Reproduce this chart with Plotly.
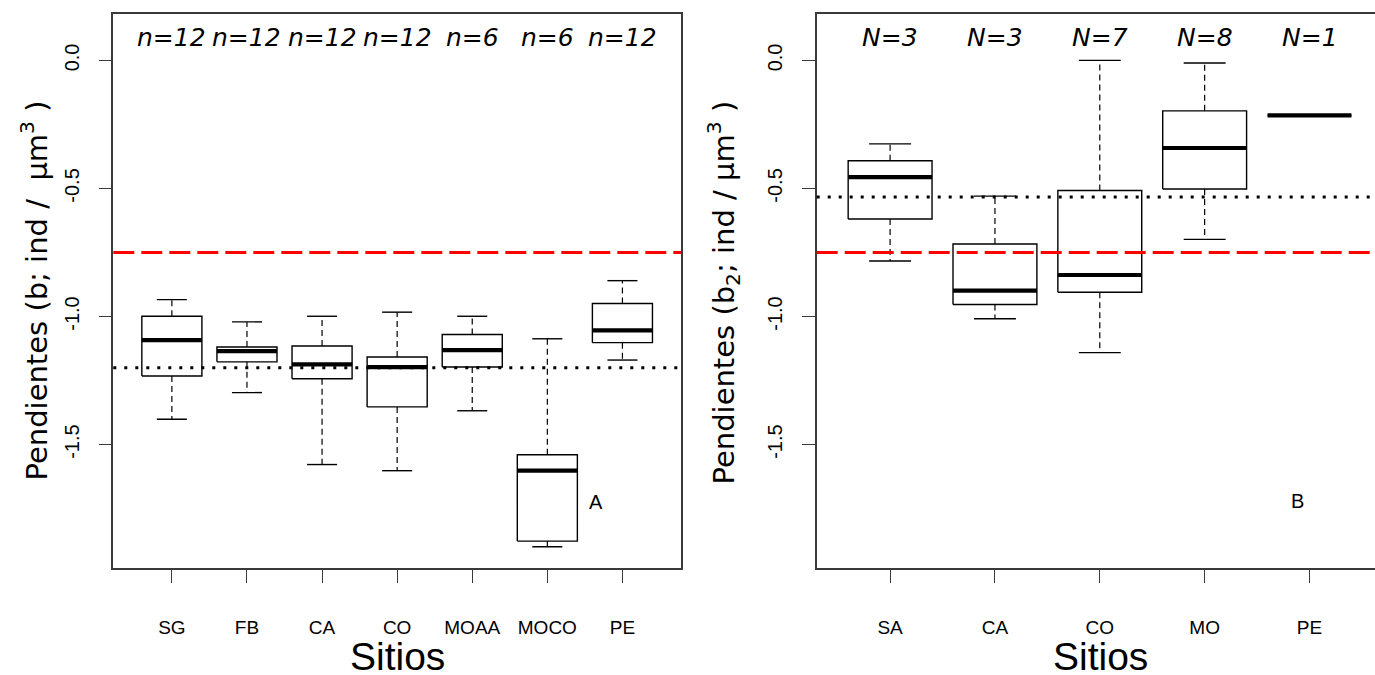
import plotly.graph_objects as go

# ---------------- data ----------------
left_sites = ["SG", "FB", "CA", "CO", "MOAA", "MOCO", "PE"]
left_n = [12, 12, 12, 12, 6, 6, 12]
left_upper = [-0.934, -1.021, -0.999, -0.983, -0.999, -1.087, -0.860]
left_q3 = [-0.999, -1.119, -1.115, -1.158, -1.070, -1.540, -0.949]
left_median = [-1.092, -1.135, -1.187, -1.198, -1.131, -1.602, -1.054]
left_q1 = [-1.232, -1.177, -1.243, -1.353, -1.197, -1.877, -1.102]
left_lower = [-1.401, -1.297, -1.578, -1.602, -1.368, -1.899, -1.170]
left_red_ref = -0.75
left_dot_ref = -1.20

right_sites = ["SA", "CA", "CO", "MO", "PE"]
right_n = [3, 3, 7, 8, 1]
right_upper = [-0.326, -0.530, 0.000, -0.010, -0.215]
right_q3 = [-0.392, -0.717, -0.508, -0.197, -0.215]
right_median = [-0.456, -0.899, -0.838, -0.342, -0.215]
right_q1 = [-0.619, -0.953, -0.905, -0.502, -0.215]
right_lower = [-0.783, -1.009, -1.141, -0.699, -0.215]
right_red_ref = -0.75
right_dot_ref = -0.533

y_tickvals = [0.0, -0.5, -1.0, -1.5]
y_ticktext = ["0.0", "-0.5", "-1.0", "-1.5"]

# ---------------- layout helpers ----------------
W, H = 1375, 675
FRAME = "#3a3a3a"
SANS = "Liberation Sans, Arial, sans-serif"
WIDE = "DejaVu Sans, sans-serif"


def py(p):
    return 1 - p / H


def px(p):
    return p / W


fig = go.Figure()


def add_panel(xa, ya, sites, upper, q3, med, q1, lower):
    xs_wh, ys_wh, xs_cap, ys_cap = [], [], [], []
    xs_box, ys_box, xs_med, ys_med = [], [], [], []
    for i in range(len(sites)):
        c = i + 1
        xs_wh += [c, c, None, c, c, None]
        ys_wh += [q3[i], upper[i], None, q1[i], lower[i], None]
        xs_cap += [c - 0.2, c + 0.2, None, c - 0.2, c + 0.2, None]
        ys_cap += [upper[i], upper[i], None, lower[i], lower[i], None]
        xs_box += [c - 0.4, c + 0.4, c + 0.4, c - 0.4, c - 0.4, None]
        ys_box += [q1[i], q1[i], q3[i], q3[i], q1[i], None]
        xs_med += [c - 0.4, c + 0.4, None]
        ys_med += [med[i], med[i], None]
    common = dict(xaxis=xa, yaxis=ya, mode="lines", hoverinfo="skip", showlegend=False)
    fig.add_trace(go.Scatter(x=xs_wh, y=ys_wh, line=dict(color="black", width=1.2, dash="6px,4px"), **common))
    fig.add_trace(go.Scatter(x=xs_cap, y=ys_cap, line=dict(color="black", width=1.4), **common))
    fig.add_trace(go.Scatter(x=xs_box, y=ys_box, line=dict(color="black", width=1.4), **common))
    fig.add_trace(go.Scatter(x=xs_med, y=ys_med, line=dict(color="black", width=4.2), **common))


add_panel("x", "y", left_sites, left_upper, left_q3, left_median, left_q1, left_lower)
add_panel("x2", "y2", right_sites, right_upper, right_q3, right_median, right_q1, right_lower)

# reference lines (drawn above boxes)
for xd, yr, val, col, dash in [
    ("x domain", "y", left_red_ref, "#ff0000", "21px,7px"),
    ("x domain", "y", left_dot_ref, "black", "3px,8px"),
    ("x2 domain", "y2", right_red_ref, "#ff0000", "21px,7px"),
    ("x2 domain", "y2", right_dot_ref, "black", "3px,8px"),
]:
    fig.add_shape(type="line", xref=xd, yref=yr, x0=0, x1=1, y0=val, y1=val,
                  line=dict(color=col, width=3, dash=dash), layer="above")

# ---------------- axes ----------------
ydom = [py(567.5), py(14.3)]
axis_common = dict(showline=True, linecolor=FRAME, linewidth=1.5, showgrid=False, zeroline=False,
                   ticks="outside", tickcolor=FRAME, tickwidth=1.3)

unit_r = 104.85
fig.update_layout(
    width=W, height=H, margin=dict(l=0, r=0, t=0, b=0),
    paper_bgcolor="white", plot_bgcolor="white", showlegend=False,
    xaxis=dict(domain=[px(113.3), px(681)], range=[0.22, 7.78], anchor="y",
               tickvals=list(range(1, len(left_sites) + 1)), ticktext=left_sites,
               mirror=True, ticklen=14, ticklabelstandoff=28,
               tickfont=dict(family=SANS, size=19, color="black"), **axis_common),
    yaxis=dict(domain=ydom, range=[-1.98, 0.18], anchor="x",
               tickvals=y_tickvals, ticktext=y_ticktext, tickangle=-90,
               mirror=True, ticklen=13, ticklabelstandoff=12,
               tickfont=dict(family=SANS, size=20, color="black"), **axis_common),
    xaxis2=dict(domain=[px(816.7), 1.0], range=[0.3, 0.3 + (W - 816.7) / unit_r], anchor="y2",
                tickvals=list(range(1, len(right_sites) + 1)), ticktext=right_sites,
                mirror=True, ticklen=14, ticklabelstandoff=28,
                tickfont=dict(family=SANS, size=19, color="black"), **axis_common),
    yaxis2=dict(domain=ydom, range=[-1.98, 0.18], anchor="x2",
                tickvals=y_tickvals, ticktext=y_ticktext, tickangle=-90,
                mirror=False, ticklen=13, ticklabelstandoff=12,
                tickfont=dict(family=SANS, size=20, color="black"), **axis_common),
)

# ---------------- text ----------------
ann = []
for i, n in enumerate(left_n):
    ann.append(dict(x=i + 1, xref="x", y=py(38), yref="paper", text=f"<i>n={n}</i>",
                    showarrow=False, xanchor="center", yanchor="middle",
                    font=dict(family=WIDE, size=25, color="black")))
for i, n in enumerate(right_n):
    ann.append(dict(x=i + 1, xref="x2", y=py(38), yref="paper", text=f"<i>N={n}</i>",
                    showarrow=False, xanchor="center", yanchor="middle",
                    font=dict(family=WIDE, size=25, color="black")))

ann.append(dict(x=0.5, xref="x domain", y=py(656), yref="paper", text="Sitios", showarrow=False,
                xanchor="center", yanchor="middle", font=dict(family=SANS, size=39, color="black")))
ann.append(dict(x=px(1100), xref="paper", y=py(656), yref="paper", text="Sitios", showarrow=False,
                xanchor="center", yanchor="middle", font=dict(family=SANS, size=39, color="black")))

ann.append(dict(x=px(35), xref="paper", y=py(290.5), yref="paper",
                text="Pendientes (b; ind /\u00a0\u00a0µm<sup>3</sup> )", textangle=-90, showarrow=False,
                xanchor="center", yanchor="middle", font=dict(family=WIDE, size=29, color="black")))
ann.append(dict(x=px(723), xref="paper", y=py(292.5), yref="paper",
                text="Pendientes (b<sub>2</sub>; ind / µm<sup>3</sup> )", textangle=-90, showarrow=False,
                xanchor="center", yanchor="middle", font=dict(family=WIDE, size=29, color="black")))

ann.append(dict(x=6.648, xref="x", y=-1.724, yref="y", text="A", showarrow=False,
                xanchor="center", yanchor="middle", font=dict(family=SANS, size=20, color="black")))
ann.append(dict(x=4.89, xref="x2", y=-1.72, yref="y2", text="B", showarrow=False,
                xanchor="center", yanchor="middle", font=dict(family=SANS, size=20, color="black")))

fig.update_layout(annotations=ann)
fig.write_html("out.html", config={"displayModeBar": False},
               post_script="document.body.style.margin='0';document.body.style.overflow='hidden';")
